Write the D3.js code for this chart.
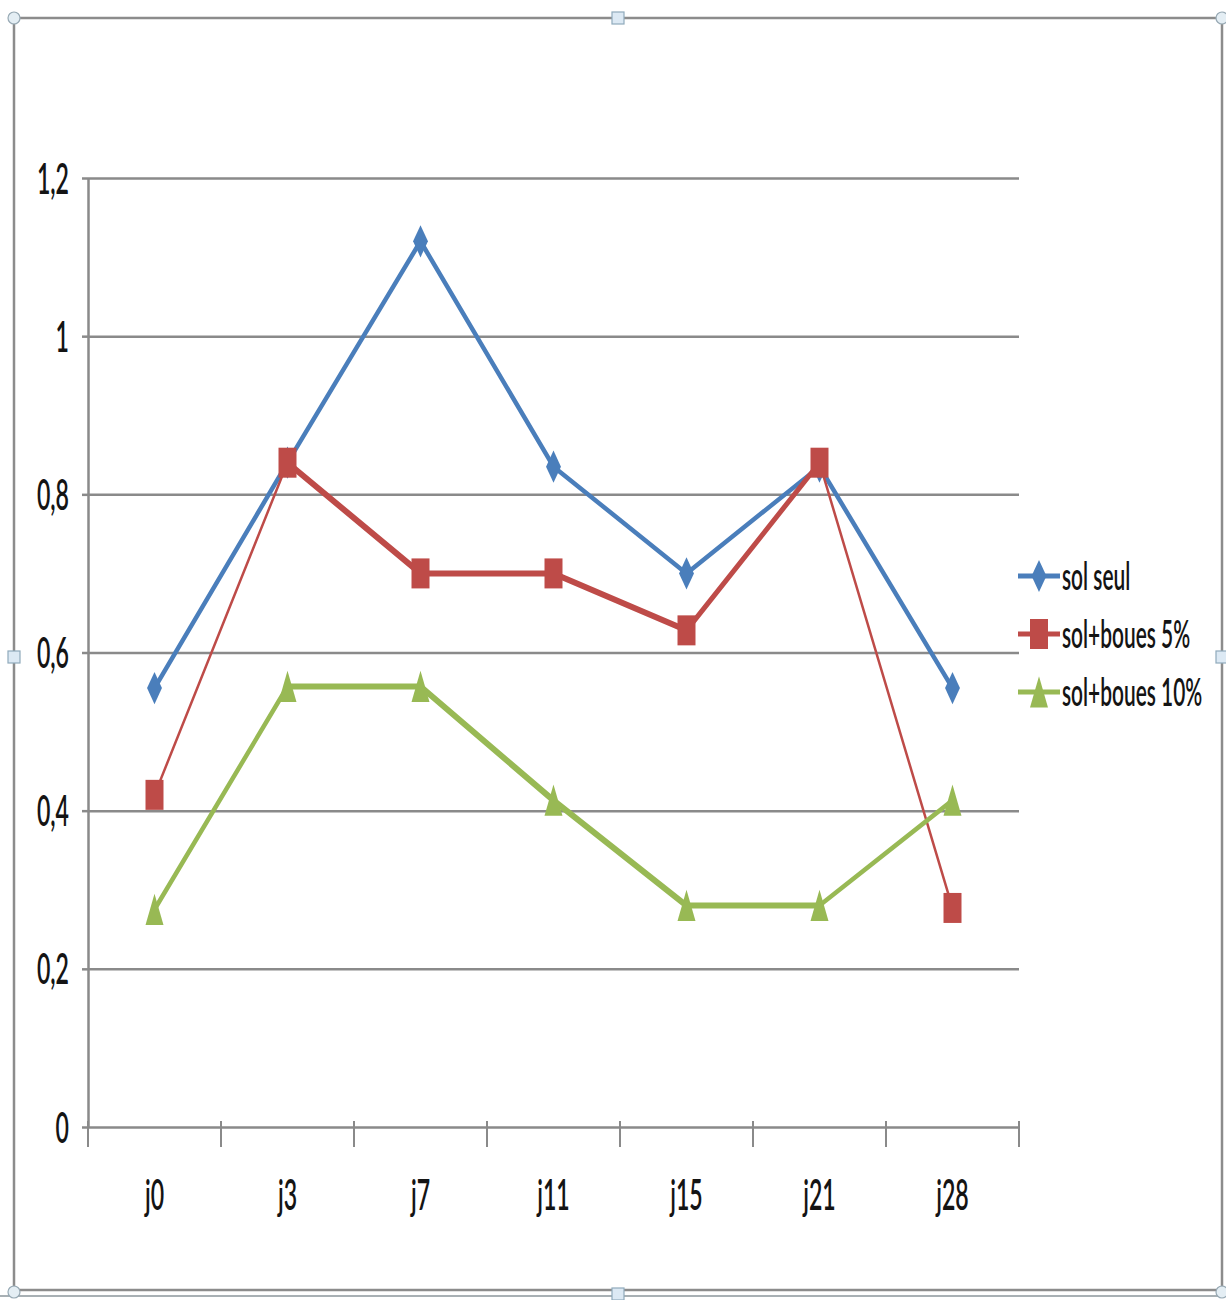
<!DOCTYPE html>
<html>
<head>
<meta charset="utf-8">
<script src="https://cdn.jsdelivr.net/npm/d3@7"></script>
<style>
  body { margin: 0; background: #fff; }
  svg { display: block; }
  text { font-family: Lato, "Open Sans", sans-serif; fill: #141414; }
</style>
</head>
<body>
<svg id="chart" width="1226" height="1300"></svg>
<script>
const days = ['j0', 'j3', 'j7', 'j11', 'j15', 'j21', 'j28'];
const solSeul = [0.555, 0.84, 1.12, 0.835, 0.70, 0.835, 0.555];
const boues5 = [0.42, 0.84, 0.70, 0.70, 0.628, 0.84, 0.277];
const boues10 = [0.275, 0.557, 0.557, 0.413, 0.28, 0.28, 0.413];
const seriesNames = ['sol seul', 'sol+boues 5%', 'sol+boues 10%'];
const yTicks = [0, 0.2, 0.4, 0.6, 0.8, 1, 1.2];

const svg = d3.select('#chart');
const plotLeft = 88, plotRight = 1019, plotTop = 178, plotBottom = 1127;
const sx = 0.55;        // squashed look of the picture
const fontSize = 42;

const x = d3.scaleBand().domain(days).range([plotLeft, plotRight]);
const y = d3.scaleLinear().domain([0, 1.2]).range([plotBottom, plotTop]);
const cx = d => x(d) + x.bandwidth() / 2;

// outer frame with its handles
svg.append('rect')
    .attr('x', 14).attr('y', 18)
    .attr('width', 1208).attr('height', 1272)
    .attr('fill', 'none')
    .attr('stroke', '#8c8c8c')
    .attr('stroke-width', 2.5)
svg.append('line')
    .attr('x1', 0).attr('x2', 1222)
    .attr('y1', 1296).attr('y2', 1296)
    .attr('stroke', '#a8b0b4').attr('stroke-width', 2)
const corners = [[14, 18], [1222, 18], [14, 1292], [1222, 1292]];
svg.selectAll('.corner').data(corners).enter()
    .append('circle')
    .attr('cx', d => d[0]).attr('cy', d => d[1]).attr('r', 6)
    .attr('fill', '#e4eef4').attr('stroke', '#97a9b4').attr('stroke-width', 1.2)
const mids = [[618, 18], [14, 657], [1222, 657], [618, 1294]];
svg.selectAll('.mid').data(mids).enter()
    .append('rect')
    .attr('x', d => d[0] - 6).attr('y', d => d[1] - 6)
    .attr('width', 12).attr('height', 12)
    .attr('fill', '#dce9f4').attr('stroke', '#8faabb').attr('stroke-width', 1.2)

// gridlines
svg.append('g')
    .attr('transform', 'translate(' + plotLeft + ',0)')
    .call(d3.axisLeft(y).tickValues(yTicks.slice(1)).tickSize(-(plotRight - plotLeft)).tickFormat(''))
    .call(g => g.select('.domain').remove())
    .selectAll('line')
    .attr('stroke', '#8a8a8a')
    .attr('stroke-width', 2.5)

// y axis
const yAxis = svg.append('g')
    .attr('transform', 'translate(' + plotLeft + ',0)')
    .call(d3.axisLeft(y).tickValues(yTicks).tickSize(6).tickSizeOuter(0)
        .tickFormat(d => String(d).replace('.', ',')))
yAxis.select('.domain').attr('stroke', '#8a8a8a').attr('stroke-width', 2.5)
yAxis.selectAll('line').attr('stroke', '#8a8a8a').attr('stroke-width', 2.5)
yAxis.selectAll('text')
    .attr('font-size', fontSize)
    .attr('font-weight', 600)
    .attr('x', -19 / sx)
    .attr('dy', '0.36em')
    .attr('transform', 'scale(' + sx + ',1)')

// x axis
const xAxis = svg.append('g')
    .attr('transform', 'translate(0,' + plotBottom + ')')
    .call(d3.axisBottom(x).tickSize(0).tickSizeOuter(0))
xAxis.select('.domain').attr('stroke', '#8a8a8a').attr('stroke-width', 2.5)
xAxis.selectAll('text')
    .attr('font-size', fontSize)
    .attr('font-weight', 600)
    .attr('y', 83)
    .attr('dy', 0)
    .attr('transform', 'scale(' + sx + ',1)')
xAxis.selectAll('.edge')
    .data(days.concat(['end']))
    .enter()
    .append('line')
    .attr('class', 'edge')
    .attr('x1', d => d === 'end' ? plotRight : x(d))
    .attr('x2', d => d === 'end' ? plotRight : x(d))
    .attr('y1', -6).attr('y2', 20)
    .attr('stroke', '#8a8a8a').attr('stroke-width', 2)

// series
const series = [
    { name: seriesNames[0], values: solSeul, color: '#4a7ebb', widths: [4.5, 4.5, 4.5, 4.5, 4.5, 4.5],
      shape: d3.symbolDiamond, size: 300, scale: 0.8, shift: 0 },
    { name: seriesNames[1], values: boues5, color: '#be4b48', widths: [2.5, 6, 6, 6, 5, 2.5],
      shape: d3.symbolSquare, size: 900, scale: 0.6, shift: 0 },
    { name: seriesNames[2], values: boues10, color: '#98b954', widths: [4.5, 6, 6, 6, 6, 4.5],
      shape: d3.symbolTriangle, size: 560, scale: 0.5, shift: 5 }
];

series.forEach(s => {
    const pts = s.values.map((v, i) => [cx(days[i]), y(v)]);
    const segs = d3.pairs(pts);
    svg.append('g').selectAll('line')
        .data(segs).enter()
        .append('line')
        .attr('x1', d => d[0][0]).attr('y1', d => d[0][1])
        .attr('x2', d => d[1][0]).attr('y2', d => d[1][1])
        .attr('stroke', s.color)
        .attr('stroke-width', (d, i) => s.widths[i])
        .attr('stroke-linecap', 'round')
})

series.forEach(s => {
    svg.append('g').selectAll('path')
        .data(s.values).enter()
        .append('path')
        .attr('d', d3.symbol().type(s.shape).size(s.size))
        .attr('transform', (d, i) => 'translate(' + cx(days[i]) + ',' + (y(d) + s.shift) + ') scale(' + s.scale + ',1)')
        .attr('fill', s.color)
})

// legend
const legend = svg.append('g').attr('transform', 'translate(1018,576)')
series.forEach((s, i) => {
    const row = legend.append('g').attr('transform', 'translate(0,' + i * 58 + ')')
    row.append('line')
        .attr('x1', 0).attr('x2', 42)
        .attr('stroke', s.color).attr('stroke-width', 5)
    row.append('path')
        .attr('d', d3.symbol().type(s.shape).size(s.size))
        .attr('transform', 'translate(21,' + s.shift + ') scale(' + s.scale + ',1)')
        .attr('fill', s.color)
    row.append('text')
        .attr('x', 44 / sx)
        .attr('y', 14)
        .attr('font-size', 38)
        .attr('font-weight', 600)
        .attr('transform', 'scale(' + sx + ',1)')
        .text(s.name)
})
</script>
</body>
</html>
